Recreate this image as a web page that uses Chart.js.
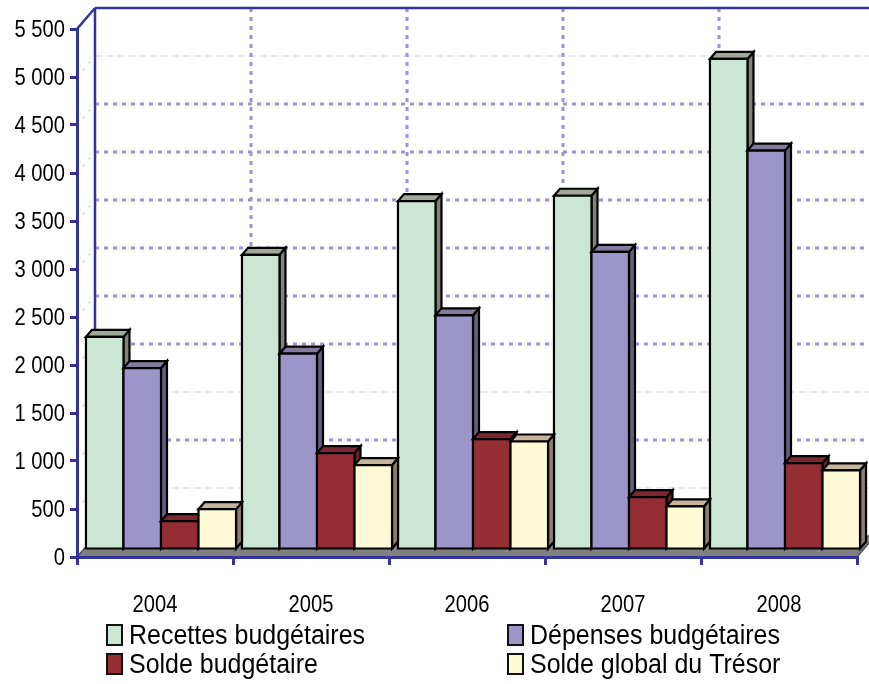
<!DOCTYPE html>
<html>
<head>
<meta charset="utf-8">
<script src="https://cdn.jsdelivr.net/npm/chart.js@4.4.1/dist/chart.umd.min.js"></script>
<style>
  html,body{margin:0;padding:0;background:#fff;}
  #wrap{width:869px;height:684px;}
</style>
</head>
<body>
<div id="wrap"><canvas id="chart" width="869" height="684"></canvas></div>
<script>
const years = ["2004","2005","2006","2007","2008"];
const seriesNames = ["Recettes budgétaires","Dépenses budgétaires","Solde budgétaire","Solde global du Trésor"];
const recettes    = [2220, 3075, 3635, 3690, 5115];
const depenses    = [1895, 2045, 2445, 3105, 4160];
const soldeBudget = [300, 1010, 1155, 550, 905];
const soldeTresor = [425, 885, 1130, 455, 830];
const yTicks = [0,500,1000,1500,2000,2500,3000,3500,4000,4500,5000,5500];

const fronts = ["#CCE6D6","#9B95C9","#952D35","#FFFAD6"];
const tops   = ["#9FA899","#837A9C","#7D2830","#C4B59C"];
const sides  = ["#7E8479","#655E7B","#6A2127","#8E7F6C"];
const AXIS = "#333399";
const FONT = '"Liberation Sans", Arial, sans-serif';
const DX = 18, DY = 21;      // depth of the plot box
const bx = 6, by = 7;        // bar depth

const fmt = (v)=>String(v).replace(/\B(?=(\d{3})+(?!\d))/g, " ");

function line(ctx, x1, y1, x2, y2){
  ctx.beginPath(); ctx.moveTo(x1,y1); ctx.lineTo(x2,y2); ctx.stroke();
}
function poly(ctx, pts, fill){
  ctx.beginPath();
  pts.forEach(([x,y],i)=> i ? ctx.lineTo(x,y) : ctx.moveTo(x,y));
  ctx.closePath();
  ctx.fillStyle = fill; ctx.fill(); ctx.stroke();
}
// narrow text: the source font is a condensed Arial
function text(ctx, s, x, y, size, sx, align, baseline){
  ctx.save();
  ctx.translate(x, y);
  ctx.scale(sx, 1);
  ctx.font = size + "px " + FONT;
  ctx.textAlign = align;
  ctx.textBaseline = baseline;
  ctx.fillStyle = "#000";
  ctx.fillText(s, 0, 0);
  ctx.restore();
}

const box3d = {
  id: "box3d",
  beforeDraw(chart){
    const {ctx} = chart;
    const xs = chart.scales.x, ys = chart.scales.y;
    const L = xs.left, R = xs.right, B = ys.bottom, T = ys.top;
    const W = chart.width;
    ctx.save();
    // back wall grid
    yTicks.forEach(v=>{
      if (v === 0 || v === 5500) return;
      const y = ys.getPixelForValue(v) - DY;
      const faint = v === 500 || v === 1500 || v === 5000;
      ctx.strokeStyle = faint ? "#E4E1F2" : "#9C94CC";
      ctx.lineWidth = faint ? 1.5 : 3;
      ctx.setLineDash(faint ? [7,4] : [4,5]);
      line(ctx, L+DX, y, W, y);
      // side wall
      ctx.strokeStyle = "#C9C4E6"; ctx.lineWidth = 1.5; ctx.setLineDash([2,7]);
      line(ctx, L, ys.getPixelForValue(v), L+DX, y);
    });
    const step = (R - L) / years.length;
    ctx.strokeStyle = "#9C94CC"; ctx.lineWidth = 3; ctx.setLineDash([4,5]);
    for (let k = 1; k <= years.length; k++){
      const x = L + k*step + DX;
      line(ctx, x, T - DY, x, B - DY);
    }
    ctx.setLineDash([]);
    // outline of the walls
    ctx.strokeStyle = AXIS; ctx.lineWidth = 2.5;
    line(ctx, L+DX, T-DY, W, T-DY);
    line(ctx, L, T, L+DX, T-DY);
    line(ctx, L+DX, T-DY, L+DX, B-DY);
    // floor
    ctx.strokeStyle = "#555"; ctx.lineWidth = 1.5;
    poly(ctx, [[L,B],[R,B],[R+DX,B-DY],[L+DX,B-DY]], "#808080");
    ctx.restore();
  },
  beforeDatasetsDraw(chart){
    chart.ctx.save();
    chart.ctx.translate(bx, -by);
  },
  afterDatasetsDraw(chart){
    const {ctx} = chart;
    ctx.strokeStyle = "#000"; ctx.lineWidth = 2.2; ctx.lineJoin = "miter";
    chart.data.datasets.forEach((ds, i)=>{
      chart.getDatasetMeta(i).data.forEach(bar=>{
        const {x, y, base, width} = bar.getProps(["x","y","base","width"], true);
        const l = x - width/2, r = x + width/2;
        poly(ctx, [[r,y],[r+bx,y-by],[r+bx,base-by],[r,base]], sides[i]);
        poly(ctx, [[l,y],[r,y],[r+bx,y-by],[l+bx,y-by]], tops[i]);
        poly(ctx, [[l,y],[r,y],[r,base],[l,base]], fronts[i]);
      });
    });
    ctx.restore();
  },
  afterDraw(chart){
    const {ctx} = chart;
    const xs = chart.scales.x, ys = chart.scales.y;
    // tick labels
    yTicks.forEach(v=> text(ctx, fmt(v), 65, ys.getPixelForValue(v) + 1, 24, 0.84, "right", "middle"));
    years.forEach((yr, i)=> text(ctx, yr, xs.getPixelForValue(i), 612, 24, 0.84, "center", "alphabetic"));
    // legend
    const cols = [107, 508], rows = [625, 654];
    seriesNames.forEach((name, i)=>{
      const x = cols[i % 2], y = rows[Math.floor(i / 2)];
      ctx.save();
      ctx.fillStyle = fronts[i];
      ctx.fillRect(x, y, 15, 20);
      ctx.strokeStyle = "#111"; ctx.lineWidth = 2;
      ctx.strokeRect(x, y, 15, 20);
      ctx.restore();
      text(ctx, name, x + 22, y + 19, 27, 0.925, "left", "alphabetic");
    });
  }
};

const seriesValues = [recettes, depenses, soldeBudget, soldeTresor];

new Chart(document.getElementById("chart"), {
  type: "bar",
  data: {
    labels: years,
    datasets: seriesNames.map((name, i)=>({
      label: name,
      data: seriesValues[i],
      backgroundColor: fronts[i],
      borderColor: "#000",
      borderWidth: 0,
      categoryPercentage: 0.962,
      barPercentage: 1
    }))
  },
  options: {
    responsive: false,
    animation: false,
    devicePixelRatio: 1,
    layout: { padding: { top: 29, right: 12, left: 0, bottom: 0 } },
    plugins: { legend: { display: false }, tooltip: { enabled: false } },
    scales: {
      x: {
        afterFit: (s)=>{ s.height = 127; },
        grid: { drawOnChartArea: false, tickLength: 8, color: AXIS, lineWidth: 3 },
        border: { color: AXIS, width: 3 },
        ticks: { display: false }
      },
      y: {
        min: 0, max: 5500,
        afterFit: (s)=>{ s.width = 77; },
        afterBuildTicks: (s)=>{ s.ticks = yTicks.map(v=>({ value: v })); },
        grid: { drawOnChartArea: false, tickLength: 7, color: AXIS, lineWidth: 3 },
        border: { color: AXIS, width: 3 },
        ticks: { display: false }
      }
    }
  },
  plugins: [box3d]
});
</script>
</body>
</html>
